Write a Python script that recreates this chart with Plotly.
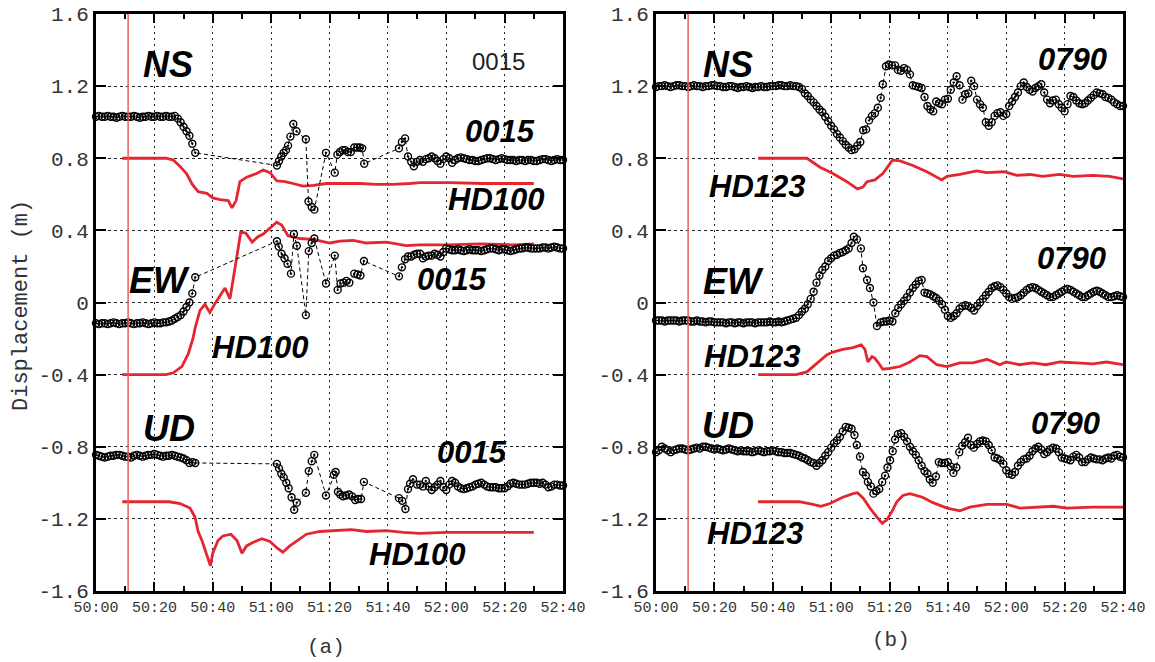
import plotly.graph_objects as go

# ================= data (time = seconds after 50:00) =================
x_tickvals = [0, 20, 40, 60, 80, 100, 120, 140, 160]
x_ticktext = ["50:00", "50:20", "50:40", "51:00", "51:20", "51:40", "52:00", "52:20", "52:40"]
y_tickvals = [-1.6, -1.2, -0.8, -0.4, 0, 0.4, 0.8, 1.2, 1.6]
y_ticktext = ["-1.6", "-1.2", "-0.8", "-0.4", "0", "0.4", "0.8", "1.2", "1.6"]
origin_time = 11

# ---------- panel (a): station 0015 ----------
a_ns_head = [1.03, 1.035, 1.03, 1.03, 1.035, 1.03, 1.03, 1.025, 1.03, 1.035, 1.03, 1.03, 1.03, 1.035, 1.03,
             1.025, 1.03, 1.03, 1.035, 1.03, 1.03, 1.035, 1.03, 1.03, 1.035, 1.03, 1.03, 1.035, 1.02,
             1.00, 0.975, 0.95, 0.925, 0.88, 0.83]
a_ns_mid_t = [62, 62.7, 63.5, 64.3, 65.1, 65.8, 66.6, 67.6, 68.7, 71.9, 72.8, 73.9, 74.8, 78.8,
              81.8, 82.7, 83.6, 84.5, 85.4, 86.3, 87.3, 88.5, 89.5, 90.4, 91.2, 91.9,
              103.8, 104.8, 105.9, 106.9, 108, 108.9]
a_ns_mid = [0.76, 0.785, 0.81, 0.83, 0.845, 0.87, 0.92, 0.99, 0.95, 0.905, 0.56, 0.53, 0.515, 0.83,
            0.72, 0.82, 0.835, 0.845, 0.845, 0.835, 0.835, 0.86, 0.86, 0.86, 0.855, 0.77,
            0.855, 0.89, 0.91, 0.81, 0.78, 0.755]
a_ns_tail = [0.78, 0.79, 0.78, 0.795, 0.80, 0.81, 0.80, 0.785, 0.77, 0.795,
             0.81, 0.80, 0.775, 0.79, 0.80, 0.805, 0.80, 0.795, 0.79, 0.79,
             0.785, 0.785, 0.79, 0.795, 0.80, 0.80, 0.795, 0.79, 0.795, 0.80,
             0.795, 0.79, 0.79, 0.79, 0.785, 0.79, 0.79, 0.785, 0.79, 0.79,
             0.785, 0.785, 0.79, 0.795, 0.795, 0.79, 0.785, 0.79, 0.795, 0.79, 0.79]

a_ew_head = [-0.115, -0.12, -0.115, -0.115, -0.12, -0.115, -0.11, -0.115, -0.12, -0.115, -0.115,
             -0.11, -0.115, -0.12, -0.115, -0.115, -0.11, -0.115, -0.12, -0.115, -0.11, -0.115,
             -0.115, -0.11, -0.11, -0.105, -0.10, -0.09, -0.08, -0.07, -0.05, -0.025, 0.0, 0.05, 0.14]
a_ew_mid_t = [62, 62.6, 63.6, 64.6, 65.6, 66.8, 67.8, 68.8, 71.9, 72.9, 73.9, 74.8, 78.8, 81.8,
              82.8, 83.8, 84.8, 85.8, 86.8, 88.5, 89.6, 90.6, 91.8, 103.8, 104.8, 105.9, 106.9, 108]
a_ew_mid = [0.34, 0.31, 0.27, 0.245, 0.215, 0.16, 0.38, 0.315, -0.07, 0.285, 0.33, 0.355, 0.105, 0.26,
            0.07, 0.105, 0.11, 0.12, 0.11, 0.16, 0.155, 0.15, 0.23, 0.145, 0.195, 0.24, 0.255, 0.255]
a_ew_tail = [0.265, 0.27, 0.27, 0.245, 0.255, 0.26, 0.26, 0.27, 0.265, 0.255,
             0.28, 0.30, 0.295, 0.29, 0.29, 0.295, 0.29, 0.285, 0.29, 0.295,
             0.29, 0.29, 0.29, 0.285, 0.29, 0.295, 0.30, 0.30, 0.295, 0.29,
             0.295, 0.295, 0.29, 0.285, 0.29, 0.295, 0.30, 0.30, 0.305, 0.305,
             0.30, 0.30, 0.30, 0.30, 0.305, 0.305, 0.30, 0.305, 0.31, 0.305, 0.30, 0.30]

a_ud_head = [-0.845, -0.85, -0.855, -0.86, -0.855, -0.85, -0.85, -0.845, -0.845, -0.85, -0.855,
             -0.855, -0.86, -0.85, -0.845, -0.85, -0.855, -0.85, -0.845, -0.845, -0.84, -0.845,
             -0.85, -0.855, -0.85, -0.85, -0.845, -0.85, -0.855, -0.86, -0.865,
             -0.875, -0.89, -0.885, -0.89]
a_ud_mid_t = [62, 62.7, 63.5, 64.3, 65.2, 66, 67, 67.9, 68.8, 71.9, 72.9, 73.9, 74.8, 78.8, 81.5, 82.1,
              82.9, 83.7, 84.6, 85.6, 86.7, 87.7, 88.8, 89.8, 90.8, 91.8, 103.8, 104.9, 106, 106.9,
              107.6, 108.6]
a_ud_mid = [-0.895, -0.92, -0.95, -0.97, -1.00, -1.03, -1.08, -1.15, -1.11, -1.055, -0.935, -0.88,
            -0.845, -1.07, -0.955, -0.94, -1.05, -1.065, -1.075, -1.07, -1.065, -1.075, -1.095,
            -1.09, -1.09, -0.995, -1.085, -1.10, -1.145, -1.035, -1.005, -0.98]
a_ud_tail = [-1.01, -1.01, -1.02, -0.99, -1.02, -1.04, -1.025, -1.01, -0.99, -1.025,
             -1.04, -1.01, -0.99, -1.00, -1.02, -1.03, -1.035, -1.03, -1.025, -1.02,
             -1.01, -1.005, -1.00, -1.01, -1.02, -1.025, -1.025, -1.025, -1.03, -1.03,
             -1.03, -1.02, -1.005, -1.00, -1.005, -1.01, -1.01, -1.01, -1.005, -1.00,
             -1.00, -1.00, -1.005, -1.00, -1.01, -1.025, -1.02, -1.01, -1.01, -1.015, -1.015]

# HD100 simulation (panel a)
hd100_ns_t = [9, 24, 26.5, 28.8, 31, 33, 35, 38, 40, 42.5, 45.3, 46.6, 48, 49.3, 51.6, 55, 57.3, 59.6,
              61.9, 64.7, 67.5, 70.9, 74.5, 79, 84.7, 90.4, 96, 101.8, 107.5, 111, 121, 132.6, 144, 150]
hd100_ns = [0.80, 0.80, 0.79, 0.755, 0.715, 0.655, 0.615, 0.605, 0.58, 0.57, 0.565, 0.525, 0.565, 0.67,
            0.695, 0.715, 0.735, 0.72, 0.675, 0.67, 0.66, 0.645, 0.65, 0.66, 0.66, 0.66, 0.655, 0.655,
            0.66, 0.665, 0.665, 0.66, 0.66, 0.66]
hd100_ew_t = [9, 24, 26.5, 29.4, 31.6, 33.3, 33.9, 35.6, 37.3, 39, 40.8, 42.5, 44.2, 45.9, 47.3, 48.4,
              49.6, 51.3, 53.5, 55.5, 57.3, 59.6, 61.9, 63.6, 65.8, 69.8, 74.4, 80.1, 83.6, 88.1, 92.7,
              99.5, 106.3, 110.9, 120, 131.5, 143, 150]
hd100_ew = [-0.40, -0.40, -0.39, -0.355, -0.285, -0.195, -0.145, -0.045, -0.01, -0.055, -0.005, 0.04,
            0.08, 0.02, 0.15, 0.27, 0.39, 0.385, 0.335, 0.365, 0.38, 0.415, 0.445, 0.43, 0.37, 0.355,
            0.35, 0.33, 0.34, 0.345, 0.33, 0.335, 0.315, 0.32, 0.32, 0.325, 0.32, 0.325]
hd100_ud_t = [9, 25, 28.8, 32.2, 33.9, 35, 36.3, 38, 39.2, 40, 41.8, 43.5, 46.2, 48.3, 50, 51.6, 53.9,
              56.8, 59.6, 61.9, 64, 66.4, 69.8, 72.1, 76.7, 82.4, 87.5, 92.7, 99.5, 105.3, 110.9, 120,
              131.5, 143, 150]
hd100_ud = [-1.105, -1.105, -1.115, -1.14, -1.19, -1.27, -1.32, -1.405, -1.46, -1.39, -1.32, -1.295,
            -1.285, -1.32, -1.39, -1.35, -1.33, -1.31, -1.325, -1.36, -1.385, -1.35, -1.31, -1.285,
            -1.27, -1.265, -1.26, -1.27, -1.265, -1.275, -1.28, -1.275, -1.275, -1.275, -1.275]

# ---------- panel (b): station 0790 ----------
b_ns_head = [1.195, 1.20, 1.20, 1.205, 1.20, 1.195, 1.20, 1.205, 1.205, 1.20,
             1.20, 1.195, 1.20, 1.205, 1.20, 1.20, 1.195, 1.20, 1.20, 1.205,
             1.205, 1.20, 1.20, 1.195, 1.195, 1.20, 1.20, 1.195, 1.19, 1.195,
             1.195, 1.20, 1.195, 1.19, 1.195, 1.195, 1.20, 1.195, 1.195, 1.20,
             1.20, 1.20, 1.205, 1.205, 1.20, 1.20, 1.205, 1.20, 1.20, 1.195,
             1.185, 1.16, 1.145, 1.125, 1.11, 1.09, 1.07, 1.055, 1.03, 1.005,
             0.98, 0.96, 0.935, 0.915, 0.895, 0.875, 0.86, 0.845, 0.85, 0.87,
             0.89, 0.955, 0.96, 1.01, 1.035, 1.05, 1.08, 1.135]
b_ns_mid_t = [77.7, 78.8, 79.8, 80.8, 81.9, 82.9, 83.9, 85]
b_ns_mid = [1.21, 1.31, 1.32, 1.315, 1.315, 1.29, 1.285, 1.30]
b_ns_tail = [1.29, 1.265, 1.205, 1.20, 1.195, 1.19, 1.14, 1.09, 1.07, 1.06,
             1.115, 1.105, 1.10, 1.125, 1.13, 1.18, 1.22, 1.255, 1.205, 1.125,
             1.155, 1.16, 1.23, 1.20, 1.125, 1.10, 1.08, 1.00, 0.98, 1.00,
             1.035, 1.05, 1.055, 1.035, 1.045, 1.09, 1.115, 1.14, 1.165, 1.20,
             1.22, 1.195, 1.18, 1.17, 1.19, 1.20, 1.21, 1.165, 1.125, 1.105,
             1.12, 1.125, 1.10, 1.08, 1.06, 1.10, 1.145, 1.14, 1.12, 1.105,
             1.10, 1.105, 1.12, 1.135, 1.15, 1.165, 1.16, 1.155, 1.14, 1.135,
             1.125, 1.11, 1.10, 1.09, 1.09]

b_ew_head = [-0.10, -0.10, -0.10, -0.105, -0.10, -0.10, -0.10, -0.10, -0.105, -0.10,
             -0.10, -0.10, -0.105, -0.105, -0.10, -0.105, -0.105, -0.11, -0.105, -0.105,
             -0.11, -0.11, -0.11, -0.11, -0.115, -0.11, -0.11, -0.115, -0.11, -0.11,
             -0.115, -0.11, -0.11, -0.11, -0.115, -0.11, -0.11, -0.11, -0.11, -0.105,
             -0.11, -0.11, -0.105, -0.11, -0.105, -0.10, -0.095,
             -0.09, -0.085, -0.07, -0.05, -0.035, -0.01, 0.02, 0.06, 0.11, 0.15,
             0.18, 0.20, 0.23, 0.245, 0.26, 0.265, 0.275, 0.28, 0.29, 0.30, 0.33]
b_ew_mid_t = [67.8, 68.8, 70.2, 70.9, 72.3, 73.3, 74.5, 75.7]
b_ew_mid = [0.365, 0.35, 0.30, 0.19, 0.125, 0.08, 0.0, -0.13]
b_ew_tail = [-0.11, -0.105, -0.105, -0.10, -0.105, -0.06, -0.03, -0.01, 0.01, 0.03,
             0.055, 0.08, 0.10, 0.12, 0.125, 0.055, 0.05, 0.045, 0.035, 0.025,
             0.01, -0.01, -0.04, -0.075, -0.085, -0.075, -0.06, -0.035, -0.02, -0.015,
             -0.02, -0.03, -0.045, -0.02, 0.0, 0.02, 0.04, 0.06, 0.08, 0.09,
             0.095, 0.085, 0.07, 0.05, 0.03, 0.02, 0.025, 0.03, 0.04, 0.055,
             0.07, 0.08, 0.085, 0.08, 0.07, 0.06, 0.05, 0.04, 0.03, 0.03,
             0.04, 0.05, 0.06, 0.07, 0.075, 0.07, 0.06, 0.05, 0.04, 0.03,
             0.03, 0.04, 0.05, 0.06, 0.065, 0.06, 0.05, 0.04, 0.03, 0.03,
             0.035, 0.04, 0.035, 0.03]

b_ud_head = [-0.83, -0.82, -0.80, -0.81, -0.82, -0.83, -0.82, -0.815, -0.81, -0.81,
             -0.815, -0.82, -0.815, -0.81, -0.805, -0.81, -0.80, -0.80, -0.805, -0.81,
             -0.815, -0.81, -0.815, -0.82, -0.815, -0.81, -0.815, -0.82, -0.825, -0.82,
             -0.825, -0.825, -0.825, -0.83, -0.825, -0.82, -0.825, -0.83, -0.825, -0.825,
             -0.82, -0.825, -0.83, -0.83, -0.835, -0.835, -0.835,
             -0.84, -0.845, -0.85, -0.86, -0.865, -0.875, -0.885, -0.89, -0.905, -0.89,
             -0.875, -0.85, -0.83, -0.805, -0.78, -0.765, -0.745, -0.715, -0.69, -0.695,
             -0.70, -0.735]
b_ud_mid_t = [68.8, 69.9, 70.9, 71.9, 72.6, 73.6, 74.5, 75.5, 76.5, 77.5, 78.5, 79.3, 80.2, 81.1, 81.9,
              82.9, 84, 85, 86, 87, 88, 89, 90, 91, 92, 93, 93.8, 94.8, 95.9, 96.9, 97.9, 98.9, 100,
              101, 101.9, 102.9, 103.9, 104.9, 105.9, 106.9, 107.9, 108.9]
b_ud_mid = [-0.79, -0.855, -0.94, -0.96, -0.995, -1.02, -1.06, -1.045, -1.035, -0.995, -0.96, -0.915,
            -0.875, -0.825, -0.76, -0.73, -0.725, -0.745, -0.77, -0.80, -0.825, -0.845, -0.875,
            -0.905, -0.935, -0.95, -0.98, -1.00, -0.965, -0.885, -0.89, -0.89, -0.885, -0.91, -0.945,
            -0.915, -0.83, -0.795, -0.775, -0.75, -0.79, -0.805]
b_ud_tail = [-0.785, -0.77, -0.765, -0.77, -0.79, -0.82, -0.86, -0.865, -0.875, -0.895,
             -0.93, -0.95, -0.955, -0.94, -0.905, -0.885, -0.87, -0.865, -0.85, -0.825,
             -0.81, -0.80, -0.815, -0.84, -0.83, -0.815, -0.805, -0.81, -0.83, -0.86,
             -0.865, -0.87, -0.875, -0.855, -0.845, -0.86, -0.885, -0.885, -0.87, -0.86,
             -0.865, -0.87, -0.87, -0.875, -0.865, -0.86, -0.865, -0.85, -0.845, -0.855, -0.86]

# HD123 simulation (panel b)
hd123_ns_t = [35, 51.7, 56.2, 60.6, 65.4, 69, 70.9, 72.3, 75, 77.7, 79.5, 81, 83.6, 88, 92.8, 96.2,
              97.9, 99.7, 104.1, 109.9, 113.3, 119.2, 123.6, 128.1, 132.5, 138.2, 142.9, 149.7, 155.4, 160]
hd123_ns = [0.80, 0.80, 0.75, 0.715, 0.67, 0.63, 0.64, 0.67, 0.68, 0.715, 0.755, 0.79, 0.785, 0.76,
            0.725, 0.695, 0.68, 0.70, 0.71, 0.73, 0.72, 0.725, 0.705, 0.71, 0.70, 0.71, 0.70, 0.705,
            0.70, 0.685]
hd123_ew_t = [35, 48, 51.7, 53.8, 56.2, 58.6, 60.6, 64, 67.5, 70.3, 71.6, 72.6, 74, 75, 76, 77.7, 80.1,
              83.6, 87, 90.4, 92.8, 96.2, 99.7, 104.1, 108.6, 113.4, 117.8, 119.9, 124.5, 129, 133.6,
              138.4, 144, 149.7, 154.3, 160]
hd123_ew = [-0.40, -0.40, -0.385, -0.355, -0.32, -0.29, -0.275, -0.26, -0.25, -0.235, -0.26, -0.33,
            -0.30, -0.31, -0.33, -0.37, -0.365, -0.355, -0.33, -0.295, -0.30, -0.345, -0.355, -0.335,
            -0.335, -0.315, -0.345, -0.33, -0.345, -0.335, -0.345, -0.33, -0.335, -0.34, -0.33, -0.345]
hd123_ud_t = [35, 49, 53.8, 56.5, 59.6, 64, 67.5, 69, 71, 73.3, 75.7, 77.5, 79.1, 80.8, 82.5, 84.6, 87,
              91.3, 94.9, 99.7, 104.1, 107.5, 113.4, 120.2, 124.7, 130.4, 136.2, 140.7, 149.7, 160]
hd123_ud = [-1.105, -1.105, -1.12, -1.13, -1.115, -1.08, -1.06, -1.055, -1.085, -1.14, -1.19, -1.225,
            -1.205, -1.16, -1.105, -1.07, -1.06, -1.08, -1.11, -1.14, -1.155, -1.135, -1.12, -1.12,
            -1.14, -1.135, -1.13, -1.14, -1.135, -1.135]

# ---------- assemble ----------
a_ns_t = list(range(0, 35)) + a_ns_mid_t + list(range(110, 161))
a_ns_v = a_ns_head + a_ns_mid + a_ns_tail
a_ew_t = list(range(0, 35)) + a_ew_mid_t + list(range(109, 161))
a_ew_v = a_ew_head + a_ew_mid + a_ew_tail
a_ud_t = list(range(0, 35)) + a_ud_mid_t + list(range(110, 161))
a_ud_v = a_ud_head + a_ud_mid + a_ud_tail
b_ns_t = list(range(0, 78)) + b_ns_mid_t + list(range(86, 161))
b_ns_v = b_ns_head + b_ns_mid + b_ns_tail
b_ew_t = list(range(0, 68)) + b_ew_mid_t + list(range(77, 161))
b_ew_v = b_ew_head + b_ew_mid + b_ew_tail
b_ud_t = list(range(0, 69)) + b_ud_mid_t + list(range(110, 161))
b_ud_v = b_ud_head + b_ud_mid + b_ud_tail

RED = "#e3262f"
fig = go.Figure()

def add_obs(t, v, xa, ya):
    fig.add_trace(go.Scatter(
        x=t, y=v, mode="lines+markers", xaxis=xa, yaxis=ya,
        line=dict(color="black", width=1, dash="4px,3px"),
        marker=dict(symbol="circle-open-dot", size=7, color="black", line=dict(width=1.4, color="black")),
        showlegend=False, hoverinfo="skip", cliponaxis=False))

def add_sim(t, v, xa, ya):
    fig.add_trace(go.Scatter(
        x=t, y=v, mode="lines", xaxis=xa, yaxis=ya,
        line=dict(color=RED, width=2.8),
        showlegend=False, hoverinfo="skip"))

add_sim(hd100_ns_t, hd100_ns, "x", "y")
add_sim(hd100_ew_t, hd100_ew, "x", "y")
add_sim(hd100_ud_t, hd100_ud, "x", "y")
add_obs(a_ns_t, a_ns_v, "x", "y")
add_obs(a_ew_t, a_ew_v, "x", "y")
add_obs(a_ud_t, a_ud_v, "x", "y")

add_sim(hd123_ns_t, hd123_ns, "x2", "y2")
add_sim(hd123_ew_t, hd123_ew, "x2", "y2")
add_sim(hd123_ud_t, hd123_ud, "x2", "y2")
add_obs(b_ns_t, b_ns_v, "x2", "y2")
add_obs(b_ew_t, b_ew_v, "x2", "y2")
add_obs(b_ud_t, b_ud_v, "x2", "y2")

W, H = 1155, 662
ydom = [1 - 591 / H, 1 - 14 / H]
MONO = "Liberation Mono, Courier New, monospace"

def xaxis_cfg(x0, x1, anchor):
    return dict(domain=[x0 / W, x1 / W], range=[0, 160], anchor=anchor, automargin=False,
                tickmode="array", tickvals=x_tickvals, ticktext=x_ticktext,
                ticks="inside", ticklen=9, tickwidth=2, tickcolor="black",
                minor=dict(ticks="inside", ticklen=5, tickwidth=2, tickcolor="black",
                           tick0=0, dtick=10, showgrid=False),
                showline=True, linewidth=3, linecolor="black", mirror="allticks",
                showgrid=True, gridcolor="#222", gridwidth=1, griddash="2px,4px",
                zeroline=False,
                tickfont=dict(family=MONO, size=15, color="#333"))

def yaxis_cfg(anchor):
    return dict(domain=ydom, range=[-1.6, 1.6], anchor=anchor, automargin=False,
                tickmode="array", tickvals=y_tickvals, ticktext=y_ticktext,
                ticks="inside", ticklen=10, tickwidth=2, tickcolor="black",
                showline=True, linewidth=3, linecolor="black", mirror="allticks",
                showgrid=True, gridcolor="#222", gridwidth=1, griddash="3px,3px",
                zeroline=False,
                tickfont=dict(family=MONO, size=21, color="#333"))

fig.update_layout(
    width=W, height=H, margin=dict(l=0, r=0, t=0, b=0, autoexpand=False),
    plot_bgcolor="white", paper_bgcolor="white", showlegend=False,
    xaxis=xaxis_cfg(96, 563, "y"), yaxis=yaxis_cfg("x"),
    xaxis2=xaxis_cfg(656, 1123, "y2"), yaxis2=yaxis_cfg("x2"),
)

for xr, yr in [("x", "y"), ("x2", "y2")]:
    fig.add_shape(type="line", xref=xr, yref=yr, x0=origin_time, x1=origin_time, y0=-1.6, y1=1.6,
                  line=dict(color="#f25c5c", width=1.5))

BI = "Liberation Sans, Arial, sans-serif"
labels = [
    # (text, x, y, xref, yref, size)
    ("NS", 24.7, 1.32, "x", "y", 36), ("EW", 21.6, 0.12, "x", "y", 36), ("UD", 25, -0.70, "x", "y", 36),
    ("0015", 138.4, 0.95, "x", "y", 31), ("HD100", 137.3, 0.57, "x", "y", 31),
    ("0015", 122, 0.13, "x", "y", 31), ("HD100", 56.5, -0.25, "x", "y", 31),
    ("0015", 128.8, -0.83, "x", "y", 31), ("HD100", 110.2, -1.395, "x", "y", 31),
    ("NS", 24.7, 1.32, "x2", "y2", 36), ("EW", 26.4, 0.115, "x2", "y2", 36), ("UD", 24.6, -0.68, "x2", "y2", 36),
    ("0790", 142.8, 1.345, "x2", "y2", 31), ("HD123", 34.7, 0.645, "x2", "y2", 31),
    ("0790", 142.5, 0.245, "x2", "y2", 31), ("HD123", 32.9, -0.30, "x2", "y2", 31),
    ("0790", 140.4, -0.67, "x2", "y2", 31), ("HD123", 34, -1.28, "x2", "y2", 31),
]
for text, x, y, xr, yr, size in labels:
    fig.add_annotation(text="<b><i>%s</i></b>" % text, x=x, y=y, xref=xr, yref=yr, showarrow=False,
                       font=dict(family=BI, size=size, color="black"), xanchor="center", yanchor="middle")

fig.add_annotation(text="0015", x=138, y=1.335, xref="x", yref="y", showarrow=False,
                   font=dict(family=BI, size=24, color="#222"), xanchor="center", yanchor="middle")

fig.add_annotation(text="Displacement (m)", x=21 / W, y=1 - 306 / H, xref="paper", yref="paper",
                   textangle=-90, showarrow=False, font=dict(family=MONO, size=22, color="#333"),
                   xanchor="center", yanchor="middle")
fig.add_annotation(text="(a)", x=326 / W, y=1 - 647 / H, xref="paper", yref="paper", showarrow=False,
                   font=dict(family=MONO, size=21, color="#333"), xanchor="center", yanchor="middle")
fig.add_annotation(text="(b)", x=891 / W, y=1 - 640 / H, xref="paper", yref="paper", showarrow=False,
                   font=dict(family=MONO, size=21, color="#333"), xanchor="center", yanchor="middle")

fig.write_html("out.html")
